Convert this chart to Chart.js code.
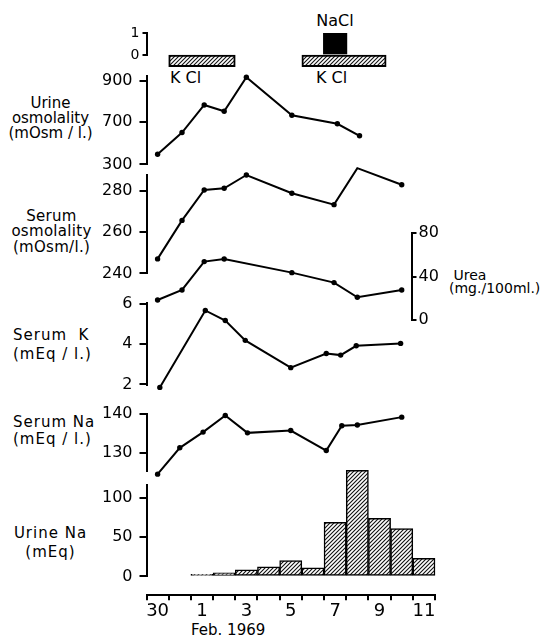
<!DOCTYPE html>
<html>
<head>
<meta charset="utf-8">
<script src="https://cdn.jsdelivr.net/npm/chart.js@4/dist/chart.umd.min.js"></script>
<style>
  html, body { margin: 0; padding: 0; background: #fff; }
  #fig { position: relative; width: 541px; height: 642px; overflow: hidden; background: #fff;
         font-family: "DejaVu Sans", sans-serif; color: #000; }
  #fig canvas { position: absolute; left: 0; }
  .lbl { position: absolute; font-size: 15px; line-height: 15px; white-space: nowrap; }
  .c { text-align: center; }
</style>
</head>
<body>
<div id="fig">
  <div class="lbl c" style="left:0;top:96px;width:101px">Urine<br>osmolality<br>(mOsm / l.)</div>
  <div class="lbl c" style="left:1px;top:209px;width:101px;line-height:15.3px;letter-spacing:0.3px">Serum<br>osmolality<br>(mOsm/l.)</div>
  <div class="lbl" style="left:13px;top:326px;line-height:19px;letter-spacing:1px">Serum&nbsp; K<br>(mEq / l.)</div>
  <div class="lbl" style="left:13px;top:414px;line-height:16.5px;letter-spacing:1px">Serum Na<br>(mEq / l.)</div>
  <div class="lbl c" style="left:0;top:524px;width:101px;line-height:19px;letter-spacing:1px">Urine Na<br>(mEq)</div>
  <div class="lbl" style="left:449px;top:269px;font-size:14px;line-height:12.5px">&nbsp;Urea<br>(mg./100ml.)</div>
  <div class="lbl" style="left:191px;top:623px">Feb. 1969</div>
  <div class="lbl c" style="left:305px;top:13px;width:60px;font-size:16px;line-height:16px">NaCl</div>
  <div class="lbl" style="left:170px;top:70px;font-size:16px;line-height:16px">K Cl</div>
  <div class="lbl" style="left:316px;top:70px;font-size:16px;line-height:16px">K Cl</div>
</div>
<script>
// values; day 0 = 30 Jan 1969
const dayLabels = ['30', '31', '1', '2', '3', '4', '5', '6', '7', '8', '9', '10', '11'];
const shownDayLabels = ['30', '1', '3', '5', '7', '9', '11'];

const kclStart = [0.5, 6.5];
const kclEnd = [3.5, 10.3];
const naclDays = [8];
const naclDose = [1];
const doseTicks = [0, 1];

const urineOsmDays = [0, 1.1, 2.1, 3.0, 4.0, 6.05, 8.1, 9.1];
const urineOsm = [540, 646, 781, 750, 917, 731, 689, 630];
const urineOsmTicks = [490, 700, 900];
const urineOsmTickLabels = ['300', '700', '900'];

const serumOsmDays = [0, 1.1, 2.1, 3.0, 4.0, 6.05, 7.95, 9.0, 11.0];
const serumOsm = [247, 265.6, 280.3, 281.1, 287.5, 278.7, 273.2, 290.8, 282.8];
const serumOsmTicks = [240, 260, 280];

const ureaDays = [0, 1.1, 2.1, 3.0, 6.05, 7.95, 9.0, 11.0];
const urea = [18.5, 27.7, 53.9, 56.3, 43.7, 34.5, 21, 27.7];
const ureaTicks = [0, 40, 80];

const serumKDays = [0.1, 2.15, 3.05, 3.95, 6.0, 7.6, 8.25, 8.95, 10.95];
const serumK = [1.85, 5.66, 5.16, 4.18, 2.83, 3.53, 3.45, 3.91, 4.03];
const serumKTicks = [2, 4, 6];

const serumNaDays = [0, 1.0, 2.05, 3.05, 4.05, 6.0, 7.6, 8.3, 9.0, 11.0];
const serumNa = [124.6, 131.3, 135.3, 139.5, 135.1, 135.7, 130.6, 136.9, 137.1, 139.1];
const serumNaTicks = [130, 140];

const urineNaDays = [2, 3, 4, 5, 6, 7, 8, 9, 10, 11, 12];
const urineNa = [2.5, 4.6, 8.5, 12.2, 20, 10.8, 69, 135, 74, 61, 23];
const urineNaTicks = [0, 50, 100];

// layout (page pixels)
const W = 541;
const X_LEFT = 146.5, X_RIGHT = 435;
const DAY_PX = (X_RIGHT - X_LEFT) / dayLabels.length;
const KCL_ROW = -0.27;
const FONT = 'DejaVu Sans';
const fig = document.getElementById('fig');

function hatch() {
  const c = document.createElement('canvas');
  c.width = c.height = 4;
  const g = c.getContext('2d');
  g.fillStyle = '#fff';
  g.fillRect(0, 0, 4, 4);
  g.strokeStyle = '#111';
  g.lineWidth = 1.1;
  g.beginPath();
  g.moveTo(0, 4); g.lineTo(4, 0);
  g.moveTo(-1, 1); g.lineTo(1, -1);
  g.moveTo(3, 5); g.lineTo(5, 3);
  g.stroke();
  return g.createPattern(c, 'repeat');
}

function xScale(max) {
  return {
    type: 'linear', min: -0.5, max: max === undefined ? dayLabels.length - 0.5 : max,
    display: false, offset: false, grid: { offset: false },
    afterBuildTicks: s => { s.ticks = dayLabels.map((_, i) => ({ value: i })); }
  };
}

function yScale(min, max, ticks, labels, opts) {
  opts = opts || {};
  const right = opts.position === 'right';
  return {
    type: 'linear', min, max, position: opts.position || 'left', offset: false,
    afterBuildTicks: s => { s.ticks = ticks.map(v => ({ value: v })); },
    afterFit: s => { s.width = right ? 40 : X_LEFT; },
    grid: { offset: false, drawOnChartArea: false, drawTicks: true, tickLength: opts.tickLength || 7, color: '#000', lineWidth: 2 },
    border: { display: true, color: '#000', width: 2 },
    ticks: {
      color: '#000', padding: opts.padding || 7, font: { family: FONT, size: opts.size || 16 },
      callback: (v, i) => (labels ? labels[i] : String(ticks[i]))
    }
  };
}

function lineSet(days, values) {
  return {
    type: 'line',
    data: days.map((d, i) => ({ x: d, y: values[i] })),
    borderColor: '#000', borderWidth: 2, tension: 0,
    pointRadius: 2.7, pointBackgroundColor: '#000', pointBorderWidth: 0,
    clip: false
  };
}

function panel(top, bottom, config, pad) {
  pad = pad || {};
  const pt = pad.top === undefined ? 14 : pad.top;
  const pb = pad.bottom === undefined ? 14 : pad.bottom;
  const y0 = Math.floor(top - pt), y1 = Math.min(642, Math.ceil(bottom + pb));
  const cv = document.createElement('canvas');
  cv.width = W;
  cv.height = y1 - y0;
  cv.style.top = y0 + 'px';
  fig.appendChild(cv);
  const o = config.options;
  o.responsive = false;
  o.animation = false;
  o.events = [];
  o.layout = { padding: {
    top: top - y0,
    bottom: pad.axisBottom ? 0 : y1 - bottom,
    left: pad.left || 0,
    right: pad.right === undefined ? W - X_RIGHT : pad.right
  } };
  o.plugins = { legend: { display: false }, tooltip: { enabled: false } };
  return new Chart(cv, config);
}

const hatchFill = hatch();

// KCl / NaCl supplements
panel(33.3, 55, {
  type: 'bar',
  data: { datasets: [
    {
      data: kclStart.map((s, i) => ({ x: [s, kclEnd[i]], y: KCL_ROW })),
      backgroundColor: hatchFill, borderColor: '#000', borderWidth: 2, borderSkipped: false,
      barThickness: 11.5, grouped: false, clip: false
    },
    {
      indexAxis: 'x',
      data: naclDays.map((d, i) => ({ x: d, y: [0, naclDose[i]] })),
      backgroundColor: '#000', borderWidth: 0, barThickness: 23.5, grouped: false, clip: false
    }
  ] },
  options: {
    indexAxis: 'y',
    scales: {
      x: xScale(),
      y: yScale(0, 1, doseTicks, null, { tickLength: 4, padding: 3, size: 14 })
    }
  }
});

// urine osmolality
panel(73, 166.7, {
  type: 'line',
  data: { datasets: [lineSet(urineOsmDays, urineOsm)] },
  options: { scales: { x: xScale(), y: yScale(490, 925, urineOsmTicks, urineOsmTickLabels) } }
});

// serum osmolality
panel(172.7, 275.3, {
  type: 'line',
  data: { datasets: [lineSet(serumOsmDays, serumOsm)] },
  options: { scales: { x: xScale(), y: yScale(240, 287.7, serumOsmTicks) } }
});

// serum urea (right-hand axis)
const UREA_AXIS_X = 411.5;
panel(233.3, 320, {
  type: 'line',
  data: { datasets: [lineSet(ureaDays, urea)] },
  options: { scales: {
    x: xScale(-0.5 + (UREA_AXIS_X - X_LEFT) / DAY_PX),
    y: yScale(0, 80, ureaTicks, null, { position: 'right', tickLength: 5, padding: 2 })
  } }
}, { left: X_LEFT, right: W - UREA_AXIS_X - 40 });

// serum K
panel(300, 388, {
  type: 'line',
  data: { datasets: [lineSet(serumKDays, serumK)] },
  options: { scales: { x: xScale(), y: yScale(1.95, 6.05, serumKTicks) } }
});

// serum Na
panel(411, 473.3, {
  type: 'line',
  data: { datasets: [lineSet(serumNaDays, serumNa)] },
  options: { scales: { x: xScale(), y: yScale(125.3, 140, serumNaTicks) } }
});

// urine Na (daily bars)
panel(485, 586.7, {
  type: 'bar',
  data: { datasets: [{
    data: urineNaDays.map((d, i) => ({ x: d, y: urineNa[i] })),
    backgroundColor: hatchFill, borderColor: '#000', borderWidth: 1.5, borderSkipped: false,
    categoryPercentage: 1, barPercentage: 1, clip: false
  }] },
  options: { scales: { x: xScale(), y: yScale(0, 116.4, urineNaTicks) } }
}, { top: 20, bottom: 6 });

// shared date axis
const X_AXIS_Y = 595.3;
panel(589, X_AXIS_Y, {
  type: 'scatter',
  data: { datasets: [] },
  options: { scales: {
    x: {
      type: 'linear', min: -0.5, max: dayLabels.length - 0.5, position: 'bottom', offset: false,
      afterBuildTicks: s => { s.ticks = dayLabels.map((_, i) => ({ value: i })); },
      afterFit: s => { s.height = 642 - X_AXIS_Y; },
      grid: { offset: true, drawOnChartArea: false, drawTicks: true, tickLength: 5, color: '#000', lineWidth: 2 },
      border: { display: true, color: '#000', width: 2 },
      ticks: {
        autoSkip: false, maxRotation: 0, padding: 0, color: '#000', font: { family: FONT, size: 18 },
        callback: (v, i) => (shownDayLabels.includes(dayLabels[i]) ? dayLabels[i] : '')
      }
    },
    y: { display: false, min: 0, max: 1 }
  } }
}, { top: 6, bottom: 60, axisBottom: true, left: X_LEFT });
</script>
</body>
</html>
